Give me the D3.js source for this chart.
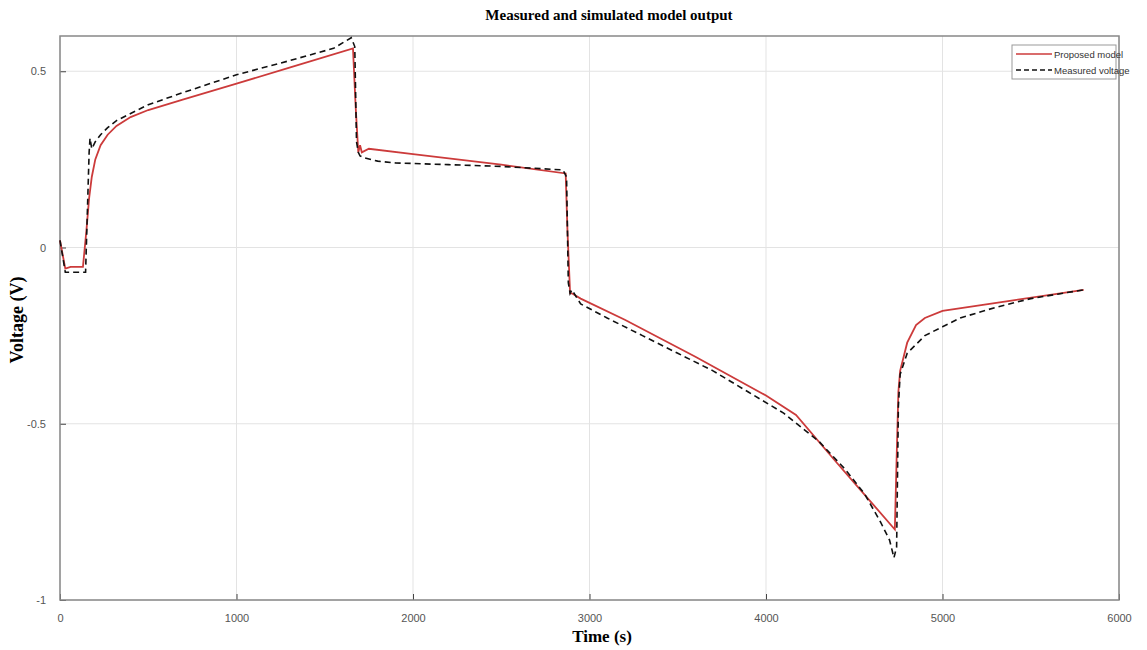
<!DOCTYPE html>
<html lang="en">
<head>
  <meta charset="utf-8">
  <script src="https://d3js.org/d3.v7.min.js"></script>
  <style>
    body, html { margin: 0; padding: 0; background: #fff; }
    .tick text { font-family: "Liberation Sans", Arial, sans-serif; font-size: 11px; }
    .grid line { stroke: #e3e3e3; }
  </style>
</head>
<body>
<svg id="chart" width="1147" height="650"></svg>
<script>
// time (s) and voltage (V)
var modelTime = [0, 30, 60, 130, 150, 165, 180, 200, 230, 270, 320, 400, 500, 700, 1000, 1300, 1660,
  1675, 1690, 1700, 1710, 1750, 2000, 2500, 2865, 2875, 2890, 2900, 2950, 3200, 3600, 4000, 4170,
  4400, 4600, 4730, 4740, 4750, 4760, 4800, 4850, 4900, 5000, 5200, 5400, 5600, 5800];
var modelVolt = [0.02, -0.06, -0.055, -0.055, 0.05, 0.14, 0.2, 0.25, 0.29, 0.32, 0.345, 0.37, 0.39, 0.42, 0.465, 0.51, 0.565,
  0.4, 0.27, 0.29, 0.27, 0.28, 0.265, 0.235, 0.21, 0.05, -0.13, -0.13, -0.145, -0.205, -0.31, -0.42, -0.475,
  -0.61, -0.725, -0.8, -0.6, -0.41, -0.35, -0.27, -0.22, -0.2, -0.18, -0.165, -0.15, -0.135, -0.12];

var measTime = [0, 30, 60, 100, 145, 155, 165, 170, 180, 200, 230, 270, 320, 400, 500, 700, 1000, 1300, 1550, 1650,
  1670, 1680, 1690, 1700, 1720, 1800, 1900, 2200, 2500, 2850, 2870, 2880, 2890, 2900, 2950, 3100, 3300, 3500,
  3700, 3900, 4100, 4300, 4450, 4560, 4650, 4700, 4725, 4740, 4750, 4760, 4800, 4900, 5000, 5100, 5300, 5500, 5800];
var measVolt = [0.02, -0.07, -0.07, -0.07, -0.07, 0.1, 0.27, 0.31, 0.28, 0.3, 0.32, 0.34, 0.36, 0.38, 0.405, 0.44, 0.49, 0.53, 0.565, 0.595,
  0.57, 0.3, 0.27, 0.26, 0.255, 0.245, 0.24, 0.235, 0.23, 0.22, 0.2, -0.1, -0.13, -0.12, -0.16, -0.2, -0.25, -0.3,
  -0.35, -0.41, -0.47, -0.55, -0.63, -0.7, -0.78, -0.83, -0.88, -0.85, -0.45, -0.36, -0.3, -0.25, -0.225, -0.2, -0.17, -0.145, -0.12];

var xTicks = [0, 1000, 2000, 3000, 4000, 5000, 6000];
var yTicks = [-1, -0.5, 0, 0.5];
var seriesNames = ["Proposed model", "Measured voltage"];

var margin = {left: 60, right: 28, top: 36, bottom: 50},
    width = 1147, height = 650;

var svg = d3.select("#chart");

var x = d3.scaleLinear().domain([0, 6000]).range([margin.left, width - margin.right]);
var y = d3.scaleLinear().domain([-1, 0.6]).range([height - margin.bottom, margin.top]);

// grid
svg.append("g").attr("class", "grid")
  .selectAll("line.v").data(xTicks).enter().append("line")
  .attr("x1", function(d) { return x(d); }).attr("x2", function(d) { return x(d); })
  .attr("y1", y(0.6)).attr("y2", y(-1));
svg.append("g").attr("class", "grid")
  .selectAll("line.h").data(yTicks).enter().append("line")
  .attr("y1", function(d) { return y(d); }).attr("y2", function(d) { return y(d); })
  .attr("x1", x(0)).attr("x2", x(6000));

// axes (MATLAB style ticks pointing in)
var xAxis = svg.append("g").attr("transform", "translate(0," + y(-1) + ")")
  .call(d3.axisBottom(x).tickValues(xTicks).tickSize(-6).tickPadding(14).tickFormat(d3.format("d")));
var yAxis = svg.append("g").attr("transform", "translate(" + x(0) + ",0)")
  .call(d3.axisLeft(y).tickValues(yTicks).tickSize(-6).tickPadding(14)
    .tickFormat(function(d) { return d === 0 ? "0" : String(d); }));
[xAxis, yAxis].forEach(function(a) {
  a.select(".domain").remove();
  a.selectAll(".tick line").attr("stroke", "#444");
  a.selectAll(".tick text").attr("fill", "#555");
});

// box
svg.append("rect")
  .attr("x", x(0)).attr("y", y(0.6))
  .attr("width", x(6000) - x(0)).attr("height", y(-1) - y(0.6))
  .attr("fill", "none").attr("stroke", "#888").attr("stroke-width", 1.5);

var line = d3.line().x(function(d) { return x(d[0]); }).y(function(d) { return y(d[1]); });

svg.append("path")
  .datum(modelTime.map(function(t, i) { return [t, modelVolt[i]]; }))
  .attr("d", line).attr("fill", "none")
  .attr("stroke", "#cc3b3b").attr("stroke-width", 1.8);

svg.append("path")
  .datum(measTime.map(function(t, i) { return [t, measVolt[i]]; }))
  .attr("d", line).attr("fill", "none")
  .attr("stroke", "#111").attr("stroke-width", 1.6)
  .attr("stroke-dasharray", "6,4");

// legend
var lg = svg.append("g").attr("transform", "translate(1012,45)");
lg.append("rect").attr("width", 104).attr("height", 34)
  .attr("fill", "#fff").attr("stroke", "#999");
seriesNames.forEach(function(name, i) {
  var yy = 9 + i * 16;
  lg.append("line").attr("x1", 4).attr("x2", 40).attr("y1", yy).attr("y2", yy)
    .attr("stroke", i ? "#111" : "#cc3b3b").attr("stroke-width", i ? 1.4 : 1.5)
    .attr("stroke-dasharray", i ? "5,3" : null);
  lg.append("text").attr("x", 42).attr("y", yy + 3.5).text(name)
    .style("font-family", "'Liberation Sans', Arial, sans-serif").style("font-size", "9.5px").style("fill", "#333");
});

// titles
svg.append("text").attr("x", 609).attr("y", 20).attr("text-anchor", "middle")
  .style("font-family", "'Liberation Serif', 'Times New Roman', serif").style("font-weight", "bold").style("font-size", "15px")
  .text("Measured and simulated  model output");
svg.append("text").attr("x", 602).attr("y", 642).attr("text-anchor", "middle")
  .style("font-family", "'Liberation Serif', 'Times New Roman', serif").style("font-weight", "bold").style("font-size", "17px")
  .text("Time (s)");
svg.append("text").attr("transform", "translate(23,320) rotate(-90)").attr("text-anchor", "middle")
  .style("font-family", "'Liberation Serif', 'Times New Roman', serif").style("font-weight", "bold").style("font-size", "18px")
  .text("Voltage (V)");
</script>
</body>
</html>
